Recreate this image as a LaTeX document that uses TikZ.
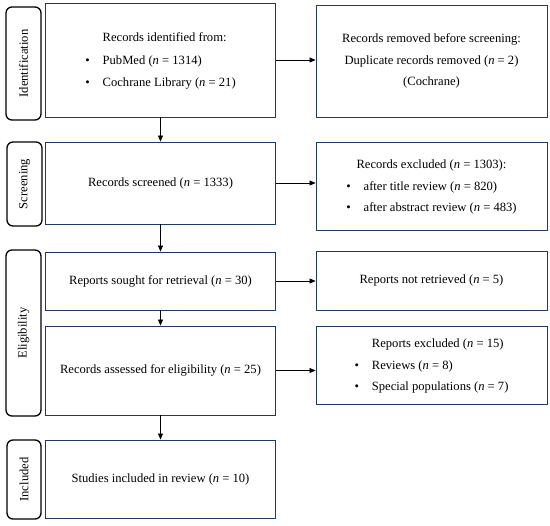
\documentclass[tikz,border=0pt]{standalone}
\usepackage{fontspec}
\setmainfont{Liberation Serif}
\usetikzlibrary{arrows.meta}
\definecolor{boxline}{HTML}{1F3864}

\begin{document}
\begin{tikzpicture}[
  x=1pt, y=1pt,
  box/.style={draw=boxline, line width=0.9pt, fill=white, align=center, inner sep=0pt, font=\fontsize{12.6}{21.5}\selectfont},
  stage/.style={draw=black, line width=1.3pt, rounded corners=6pt, rotate=90, inner sep=0pt, font=\fontsize{12.6}{14}\selectfont},
  arr/.style={-{Triangle[length=6pt, width=5pt]}, line width=0.6pt, black},
]
\useasboundingbox (0,0) rectangle (550,-526);

% Stages
\node[stage, minimum width=113, minimum height=35] (sid) at (23.5,-63.5) {Identification};
\node[stage, minimum width=84, minimum height=35] (sscr) at (24.5,-184) {Screening};
\node[stage, minimum width=166, minimum height=35] (selig) at (23.5,-333) {Eligibility};
\node[stage, minimum width=79, minimum height=34] (sincl) at (24,-479.5) {Included};

% Main flow
\node[box, minimum width=230, minimum height=114] (ident) at (160.5,-60) {%
  \begin{tabular}{@{}l@{\hspace{13pt}}l@{}}
    & Records identified from:\\[1pt]
    \textbullet & PubMed (\textit{n} = 1314)\\[1pt]
    \textbullet & Cochrane Library (\textit{n} = 21)
  \end{tabular}};
\node[box, minimum width=230, minimum height=82] (scr) at (160.5,-183) {Records screened (\textit{n} = 1333)};
\node[box, minimum width=230, minimum height=58] (sought) at (160.5,-281) {Reports sought for retrieval (\textit{n} = 30)};
\node[box, minimum width=230, minimum height=89] (assess) at (160.5,-370.5) {Records assessed for eligibility (\textit{n} = 25)};
\node[box, minimum width=230, minimum height=78] (incl) at (160.5,-479) {Studies included in review (\textit{n} = 10)};

% Side boxes
\node[box, minimum width=231, minimum height=112] (removed) at (431.5,-61) {Records removed before screening:\\
  Duplicate records removed (\textit{n} = 2)\\
  (Cochrane)};
\node[box, minimum width=231, minimum height=88] (excl) at (431.5,-186) {%
  \begin{tabular}{@{}l@{\hspace{13pt}}l@{}}
    \multicolumn{2}{c}{Records excluded (\textit{n} = 1303):}\\
    \textbullet & after title review (\textit{n} = 820)\\
    \textbullet & after abstract review (\textit{n} = 483)
  \end{tabular}};
\node[box, minimum width=231, minimum height=59] (notret) at (431.5,-280.5) {Reports not retrieved (\textit{n} = 5)};
\node[box, minimum width=231, minimum height=78] (repexcl) at (431.5,-365) {%
  \begin{tabular}{@{}l@{\hspace{13pt}}l@{}}
    & Reports excluded (\textit{n} = 15)\\
    \textbullet & Reviews (\textit{n} = 8)\\
    \textbullet & Special populations (\textit{n} = 7)
  \end{tabular}};

% Arrows
\draw[arr] (ident) -- (scr);
\draw[arr] (scr) -- (sought);
\draw[arr] (sought) -- (assess);
\draw[arr] (assess) -- (incl);

\draw[arr] (ident.east) -- (ident.east -| removed.west);
\draw[arr] (scr.east) -- (scr.east -| excl.west);
\draw[arr] (sought.east) -- (sought.east -| notret.west);
\draw[arr] (assess.east) -- (assess.east -| repexcl.west);

\end{tikzpicture}
\end{document}
